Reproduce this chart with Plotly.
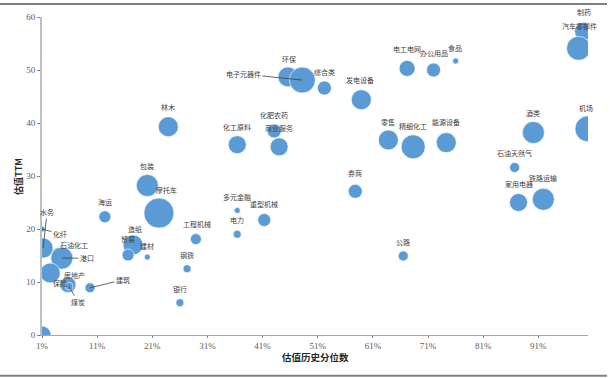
import plotly.graph_objects as go

# ---- data ----
names = ["制药", "汽车零部件", "食品", "电工电网", "办公用品", "环保", "电子元器件", "综合类",
         "发电设备", "林木", "化肥农药", "化工原料", "商业服务", "零售", "精细化工", "能源设备",
         "酒类", "机场", "石油天然气", "券商", "包装", "摩托车", "海运", "多元金融", "重型机械",
         "电力", "工程机械", "钢铁", "银行", "家用电器", "铁路运输", "公路", "造纸", "贸易",
         "建材", "建筑", "石油化工", "港口", "保险", "房地产", "煤炭", "水务", "化纤", ""]
pct = [99.2, 98.3, 76.0, 67.2, 72.0, 45.6, 48.2, 52.2,
       58.9, 23.9, 43.1, 36.4, 44.0, 63.8, 68.3, 74.3,
       90.1, 100.0, 86.7, 57.8, 20.1, 22.2, 12.4, 36.4, 41.3,
       36.4, 28.9, 27.3, 26.0, 87.4, 91.9, 66.5, 17.5, 16.6,
       20.1, 9.7, 4.0, 4.6, 2.5, 5.7, 5.9, 1.2, 1.0, 1.0]
ttm = [57.3, 54.1, 51.7, 50.3, 50.0, 48.7, 48.1, 46.6,
       44.4, 39.3, 38.5, 35.9, 35.5, 36.8, 35.5, 36.3,
       38.2, 38.9, 31.6, 27.1, 28.2, 23.0, 22.3, 23.5, 21.7,
       19.0, 18.1, 12.5, 6.1, 25.0, 25.6, 14.9, 17.0, 15.1,
       14.7, 8.9, 15.2, 14.5, 11.7, 9.5, 9.2, 16.4, 20.0, 0.0]
weight = [18, 24, 6, 16, 14, 20, 26, 14,
          20, 20, 14, 18, 18, 20, 24, 20,
          22, 26, 10, 14, 22, 30, 12, 6, 13,
          8, 11, 8, 8, 18, 22, 10, 20, 12,
          6, 10, 14, 22, 20, 16, 8, 20, 6, 18]
x_ticks = [1, 11, 21, 31, 41, 51, 61, 71, 81, 91]
x_tick_labels = [f"{v}%" for v in x_ticks]
y_ticks = [0, 10, 20, 30, 40, 50, 60]

# ---- label placement (pixel offsets of label centre from bubble centre) ----
label_offsets = {
    "制药": (0, -19), "汽车零部件": (1, -22), "食品": (-1, -13), "电工电网": (0, -19),
    "办公用品": (0, -17), "环保": (1, -18), "综合类": (0, -16), "发电设备": (-1, -20),
    "林木": (0, -20), "化肥农药": (0, -16), "化工原料": (0, -18), "商业服务": (0, -19),
    "零售": (0, -18), "精细化工": (0, -21), "能源设备": (0, -21), "酒类": (0, -20),
    "机场": (-2, -21), "石油天然气": (0, -15), "券商": (0, -18), "包装": (0, -20),
    "摩托车": (8, -23), "海运": (0, -15), "多元金融": (0, -13), "重型机械": (0, -16),
    "电力": (0, -14), "工程机械": (1, -15), "钢铁": (0, -14), "银行": (0, -14),
    "家用电器": (0, -19), "铁路运输": (0, -21), "公路": (0, -14), "造纸": (2, -16),
    "贸易": (0, -16), "建材": (0, -11), "石油化工": (15, -9), "保险": (10, 10),
    "房地产": (7, -10),
}
arrow_offsets = {
    "电子元器件": (-59, -6), "建筑": (33, -8), "港口": (25, 0), "煤炭": (9, 16),
    "水务": (4, -36), "化纤": (18, 5),
}

label_font = dict(family="Noto Sans CJK SC", size=7, color="#404040")

fig = go.Figure()
fig.add_trace(go.Scatter(
    x=pct, y=ttm, mode="markers",
    marker=dict(size=weight, sizemode="diameter", sizeref=1, color="#5B9BD5",
                opacity=1, line=dict(width=0.6, color="white")),
    hoverinfo="skip", cliponaxis=True, showlegend=False,
))

annotations = []
for n, xv, yv in zip(names, pct, ttm):
    if not n:
        continue
    if n in arrow_offsets:
        ax, ay = arrow_offsets[n]
        annotations.append(dict(x=xv, y=yv, xref="x", yref="y", text=n, showarrow=True,
                                arrowhead=0, arrowwidth=0.8, arrowcolor="#404040",
                                ax=ax, ay=ay, font=label_font, standoff=0))
    else:
        dx, dy = label_offsets.get(n, (0, -16))
        annotations.append(dict(x=xv, y=yv, xref="x", yref="y", text=n, showarrow=False,
                                xshift=dx, yshift=-dy, font=label_font))

annotations.append(dict(x=0.5, y=-0.069, xref="paper", yref="paper", text="<b>估值历史分位数</b>",
                        showarrow=False, yanchor="middle", xanchor="center",
                        font=dict(family="Noto Sans CJK SC", size=9.5, color="#262626")))
annotations.append(dict(x=-0.044, y=0.5, xref="paper", yref="paper", text="<b>估值TTM</b>",
                        showarrow=False, textangle=-90, xanchor="center", yanchor="middle",
                        font=dict(family="Noto Sans CJK SC", size=9, color="#262626")))

W, H, L, R, T, B = 610, 378, 42, 22, 15, 43
pw, ph = W - L - R, H - T - B

def px2paper(px, py):
    return (px - L) / pw, (H - B - py) / ph

x0p, ytop = px2paper(0, 2)
x1p, ybot = px2paper(607, 376)
shapes = [
    dict(type="line", xref="paper", yref="paper", x0=x0p, x1=x1p, y0=ytop, y1=ytop,
         line=dict(color="#7F7F7F", width=2)),
    dict(type="line", xref="paper", yref="paper", x0=x0p, x1=x1p, y0=ybot, y1=ybot,
         line=dict(color="#7F7F7F", width=2)),
]

fig.update_layout(
    width=W, height=H, margin=dict(l=L, r=R, t=T, b=B),
    paper_bgcolor="white", plot_bgcolor="white",
    annotations=annotations, shapes=shapes,
    xaxis=dict(range=[1, 100], tickvals=x_ticks, ticktext=x_tick_labels,
               showgrid=False, zeroline=False, showline=True, linecolor="#A6A6A6", linewidth=1.2,
               ticks="outside", ticklen=2, tickcolor="#7F7F7F",
               tickfont=dict(family="Liberation Serif", size=9, color="#595959")),
    yaxis=dict(range=[0, 60], tickvals=y_ticks,
               showgrid=False, zeroline=False, showline=True, linecolor="#BFBFBF", linewidth=2,
               ticks="outside", ticklen=3, tickcolor="#7F7F7F",
               tickfont=dict(family="Liberation Serif", size=9, color="#595959")),
)

fig.write_html("out.html")
